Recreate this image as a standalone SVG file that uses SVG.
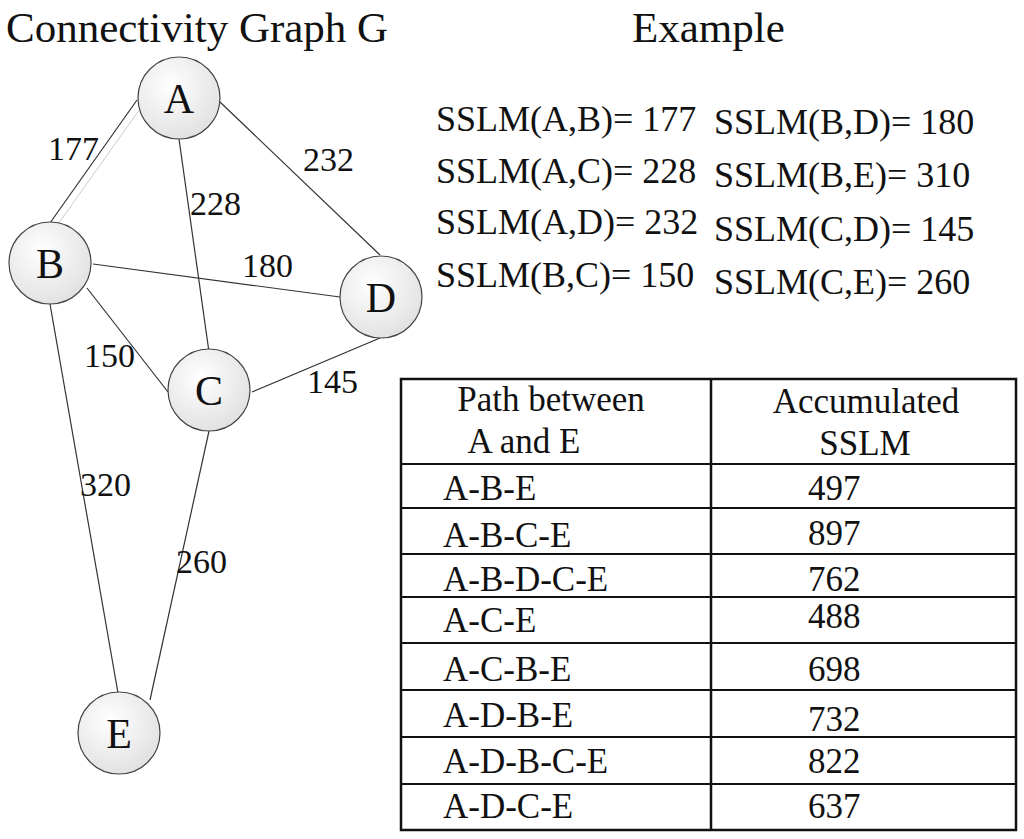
<svg xmlns="http://www.w3.org/2000/svg" width="1024" height="839" viewBox="0 0 1024 839">
<style>
text{font-family:"Liberation Serif","Times New Roman",serif;fill:#111}
.t{font-size:43px}.n{font-size:42px;text-anchor:middle}.e{font-size:34px}.s{font-size:36px}.c{font-size:35px}
.ln{stroke:#333;stroke-width:1.2;fill:none}
.nd{fill:url(#g);stroke:#444;stroke-width:1.2}
.tb{stroke:#111;stroke-width:2.5;fill:none}
</style>
<defs><radialGradient id="g" cx="0.4" cy="0.35" r="0.7"><stop offset="0" stop-color="#fff"/><stop offset="1" stop-color="#e0e0e0"/></radialGradient></defs>
<rect width="1024" height="839" fill="#fff"/>
<text class="t" x="6" y="42">Connectivity Graph G</text>
<text class="t" x="632" y="42">Example</text>
<g id="connectors">
<line class="ln" x1="137" y1="100" x2="50" y2="223"/>
<line x1="142" y1="106" x2="56" y2="227" stroke="#ccc" stroke-width="1"/>
<line class="ln" x1="179" y1="139" x2="209" y2="352"/>
<line class="ln" x1="220" y1="102" x2="380" y2="255"/>
<line class="ln" x1="93" y1="264" x2="340" y2="297"/>
<line class="ln" x1="87" y1="288" x2="168" y2="392"/>
<line class="ln" x1="252" y1="392" x2="380" y2="338"/>
<line class="ln" x1="50" y1="304" x2="118" y2="693"/>
<line class="ln" x1="209" y1="431" x2="150" y2="700"/>
<text class="e" x="48" y="160">177</text>
<text class="e" x="303" y="171">232</text>
<text class="e" x="190" y="215">228</text>
<text class="e" x="242" y="277">180</text>
<text class="e" x="84" y="367">150</text>
<text class="e" x="307" y="393">145</text>
<text class="e" x="80" y="496">320</text>
<text class="e" x="176" y="573">260</text>
</g>
<g id="A"><circle class="nd" cx="179" cy="98" r="41"/><text class="n" x="179" y="113">A</text></g>
<g id="B"><circle class="nd" cx="50" cy="263" r="41"/><text class="n" x="50" y="278">B</text></g>
<g id="D"><circle class="nd" cx="381" cy="297" r="41"/><text class="n" x="381" y="312">D</text></g>
<g id="C"><circle class="nd" cx="209" cy="390" r="41"/><text class="n" x="209" y="405">C</text></g>
<g id="E"><circle class="nd" cx="119" cy="733" r="41"/><text class="n" x="119" y="748">E</text></g>
<g id="sslm">
<text class="s" x="436" y="131">SSLM(A,B)= 177</text>
<text class="s" x="436" y="183">SSLM(A,C)= 228</text>
<text class="s" x="436" y="234">SSLM(A,D)= 232</text>
<text class="s" x="436" y="287">SSLM(B,C)= 150</text>
<text class="s" x="714" y="134">SSLM(B,D)= 180</text>
<text class="s" x="714" y="187">SSLM(B,E)= 310</text>
<text class="s" x="714" y="241">SSLM(C,D)= 145</text>
<text class="s" x="714" y="294">SSLM(C,E)= 260</text>
</g>
<g id="table">
<rect class="tb" x="401" y="379" width="615" height="451"/>
<line class="tb" x1="711" y1="379" x2="711" y2="830"/>
<g stroke="#111" stroke-width="2">
<line x1="401" y1="464" x2="1016" y2="464"/><line x1="401" y1="508" x2="1016" y2="508"/>
<line x1="401" y1="554" x2="1016" y2="554"/><line x1="401" y1="597" x2="1016" y2="597"/>
<line x1="401" y1="643" x2="1016" y2="643"/><line x1="401" y1="690" x2="1016" y2="690"/>
<line x1="401" y1="737" x2="1016" y2="737"/><line x1="401" y1="784" x2="1016" y2="784"/>
</g>
<text class="c" x="551" y="411" text-anchor="middle">Path between</text>
<text class="c" x="524" y="453" text-anchor="middle">A and E</text>
<text class="c" x="866" y="413" text-anchor="middle">Accumulated</text>
<text class="c" x="865" y="455" text-anchor="middle">SSLM</text>
<text class="c" x="443" y="500">A-B-E</text><text class="c" x="808" y="500">497</text>
<text class="c" x="443" y="547">A-B-C-E</text><text class="c" x="808" y="545">897</text>
<text class="c" x="443" y="591">A-B-D-C-E</text><text class="c" x="808" y="591">762</text>
<text class="c" x="443" y="632">A-C-E</text><text class="c" x="808" y="628">488</text>
<text class="c" x="443" y="681">A-C-B-E</text><text class="c" x="808" y="681">698</text>
<text class="c" x="443" y="727">A-D-B-E</text><text class="c" x="808" y="731">732</text>
<text class="c" x="443" y="773">A-D-B-C-E</text><text class="c" x="808" y="773">822</text>
<text class="c" x="443" y="818">A-D-C-E</text><text class="c" x="808" y="818">637</text>
</g>
</svg>
